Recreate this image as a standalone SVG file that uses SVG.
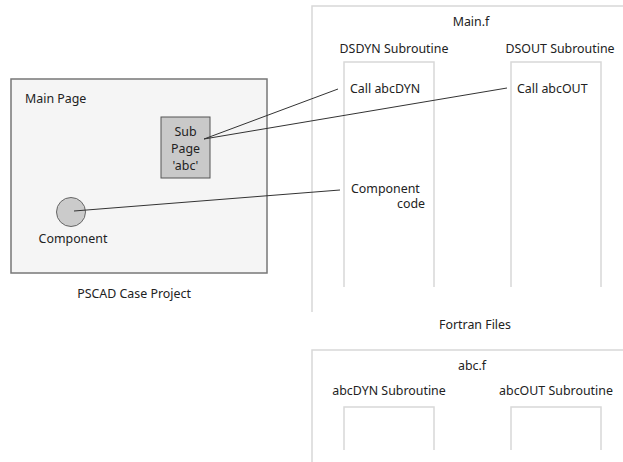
<svg xmlns="http://www.w3.org/2000/svg" width="623" height="462" viewBox="0 0 623 462">
  <style>
    text { font-family: "Noto Sans", "Open Sans", sans-serif; font-size: 12.4px; fill: #222; }
    .mid { text-anchor: middle; }
    .end { text-anchor: end; }
    .frame { fill: none; stroke: #d8d8d8; stroke-width: 1.5; }
    .link { fill: none; stroke: #333; stroke-width: 1; }
  </style>
  <rect width="623" height="462" fill="#fff"/>

  <!-- PSCAD case project -->
  <g id="main-page">
    <rect x="11" y="79" width="256" height="194" fill="#f5f5f5" stroke="#777" stroke-width="1.5"/>
    <text x="25" y="103">Main Page</text>
  </g>
  <g id="sub-page">
    <rect x="161" y="117" width="49" height="61" fill="#c9c9c9" stroke="#555" stroke-width="1"/>
    <text class="mid" x="185.5" y="136">Sub</text>
    <text class="mid" x="185.5" y="153">Page</text>
    <text class="mid" x="185.5" y="170">'abc'</text>
  </g>
  <g id="component">
    <circle cx="71" cy="212" r="14.5" fill="#cbcbcb" stroke="#666" stroke-width="1"/>
    <text class="mid" x="73" y="243">Component</text>
  </g>
  <text id="project-label" class="mid" x="134" y="298">PSCAD Case Project</text>

  <!-- Main.f -->
  <g id="main-f">
    <path class="frame" d="M312,312 V6 H623"/>
    <text class="mid" x="471" y="26">Main.f</text>
  </g>
  <g id="dsdyn">
    <text class="mid" x="394" y="53">DSDYN Subroutine</text>
    <path class="frame" d="M344,287 V62 H434 V287"/>
    <text x="350" y="93">Call abcDYN</text>
    <text x="351" y="193">Component</text>
    <text class="end" x="425" y="208">code</text>
  </g>
  <g id="dsout">
    <text class="mid" x="560" y="53">DSOUT Subroutine</text>
    <path class="frame" d="M511,287 V62 H601 V287"/>
    <text x="517" y="93">Call abcOUT</text>
  </g>

  <text id="fortran-label" class="mid" x="475" y="329">Fortran Files</text>

  <!-- abc.f -->
  <g id="abc-f">
    <path class="frame" d="M312,462 V350 H623"/>
    <text class="mid" x="472" y="370">abc.f</text>
  </g>
  <g id="abcdyn">
    <text class="mid" x="389" y="395">abcDYN Subroutine</text>
    <path class="frame" d="M344,450 V407 H434 V450"/>
  </g>
  <g id="abcout">
    <text class="mid" x="556" y="395">abcOUT Subroutine</text>
    <path class="frame" d="M511,450 V407 H601 V450"/>
  </g>

  <g id="connectors">
    <line class="link" x1="204" y1="139" x2="338" y2="89"/>
    <line class="link" x1="204" y1="139" x2="507" y2="88"/>
    <line class="link" x1="74" y1="211" x2="340" y2="190"/>
  </g>
</svg>
